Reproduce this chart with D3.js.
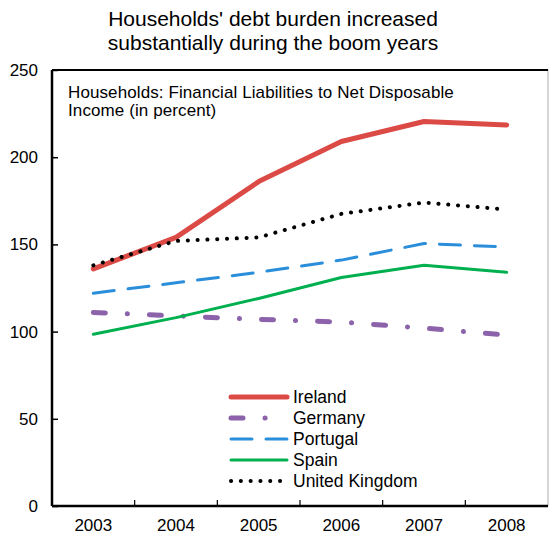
<!DOCTYPE html>
<html><head><meta charset="utf-8">
<script src="https://cdn.jsdelivr.net/npm/d3@7"></script>
<style>body{margin:0;background:#fff}svg{display:block;font-family:"Liberation Sans",Arial,sans-serif}</style>
</head><body><svg id="c" width="549" height="535"></svg>
<script>
const years = ["2003","2004","2005","2006","2007","2008"];
const ireland = [136, 154, 186, 209, 220.5, 218.5];
const germany = [111, 109, 107, 105.5, 102, 98];
const portugal = [122, 128, 134, 141, 150.5, 148.5];
const spain = [98.5, 108, 119, 131, 138, 134];
const uk = [138, 152, 154, 167.5, 174, 170];
const yTicks = [0, 50, 100, 150, 200, 250];
const seriesNames = ["Ireland","Germany","Portugal","Spain","United Kingdom"];

const styles = {
  "Ireland": {color:"#dc4a46", w:5, dash:null, cap:"round"},
  "Germany": {color:"#8c62aa", w:5, dash:"12 22 0.1 22", cap:"round"},
  "Portugal": {color:"#2a8edb", w:3, dash:"21 14", cap:"round"},
  "Spain": {color:"#00b04f", w:3, dash:null, cap:"round"},
  "United Kingdom": {color:"#000", w:4, dash:"0.1 9.7", cap:"round"}
};
const data = {"Ireland":ireland,"Germany":germany,"Portugal":portugal,"Spain":spain,"United Kingdom":uk};

const svg = d3.select("#c");
const L=52, R=548, T=70, B=506;
const x = d3.scaleBand().domain(years).range([L,R]);
const y = d3.scaleLinear().domain([0,250]).range([B,T]);

// title
svg.append("text").attr("x",273).attr("y",26).attr("text-anchor","middle").attr("font-size",21).text("Households' debt burden increased");
svg.append("text").attr("x",273).attr("y",50).attr("text-anchor","middle").attr("font-size",21).text("substantially during the boom years");

// frame
svg.append("line").attr("x1",R).attr("x2",R).attr("y1",T).attr("y2",B).attr("stroke","#c8c8c8").attr("stroke-width",1.5);
svg.append("line").attr("x1",L).attr("x2",R).attr("y1",T).attr("y2",T).attr("stroke","#000").attr("stroke-width",2);

// y axis
const ya = svg.append("g").attr("transform",`translate(${L},0)`)
  .call(d3.axisRight(y).tickValues(yTicks).tickSize(6).tickFormat(""));
ya.select(".domain").attr("stroke","#000").attr("stroke-width",2.5).attr("d",`M0,${T}V${B}`);
ya.selectAll(".tick line").attr("stroke-width",1.5);
svg.append("g").selectAll("text").data(yTicks).join("text")
  .attr("x",38).attr("y",d=>y(d)+6).attr("text-anchor","end").attr("font-size",17).text(d=>d);

// x axis
const xa = svg.append("g").attr("transform",`translate(0,${B})`)
  .call(d3.axisTop(x).tickSize(0).tickFormat(""));
xa.select(".domain").attr("stroke","#000").attr("stroke-width",2.5).attr("d",`M${L},0H${R}`);
svg.append("g").selectAll("line").data(years.slice(1)).join("line")
  .attr("x1",d=>x(d)).attr("x2",d=>x(d)).attr("y1",B).attr("y2",B-6).attr("stroke","#000").attr("stroke-width",1.2);
svg.append("g").selectAll("text").data(years).join("text")
  .attr("x",d=>x(d)+x.bandwidth()/2).attr("y",531).attr("text-anchor","middle").attr("font-size",17).text(d=>d);

// subtitle
svg.append("text").attr("x",68).attr("y",98).attr("font-size",17).attr("letter-spacing",0.1).text("Households: Financial Liabilities to Net Disposable");
svg.append("text").attr("x",68).attr("y",116).attr("font-size",17).attr("letter-spacing",0.1).text("Income (in percent)");

// lines
const line = d3.line().x((d,i)=>x(years[i])+x.bandwidth()/2).y(d=>y(d));
const drawOrder = ["Germany","Spain","Portugal","Ireland","United Kingdom"];
drawOrder.forEach(n=>{
  const s=styles[n];
  svg.append("path").datum(data[n]).attr("d",line).attr("fill","none")
    .attr("stroke",s.color).attr("stroke-width",s.w).attr("stroke-linecap",s.cap).attr("stroke-linejoin","round")
    .attr("stroke-dasharray",s.dash);
});

// legend
const lg = svg.append("g");
seriesNames.forEach((n,i)=>{
  const s=styles[n]; const yy=397+i*21;
  lg.append("line").attr("x1",231).attr("x2",287).attr("y1",yy).attr("y2",yy)
    .attr("stroke",s.color).attr("stroke-width",s.w).attr("stroke-linecap",s.cap).attr("stroke-dasharray",s.dash);
  lg.append("text").attr("x",293).attr("y",yy+6).attr("font-size",17.5).text(n);
});
</script></body></html>
